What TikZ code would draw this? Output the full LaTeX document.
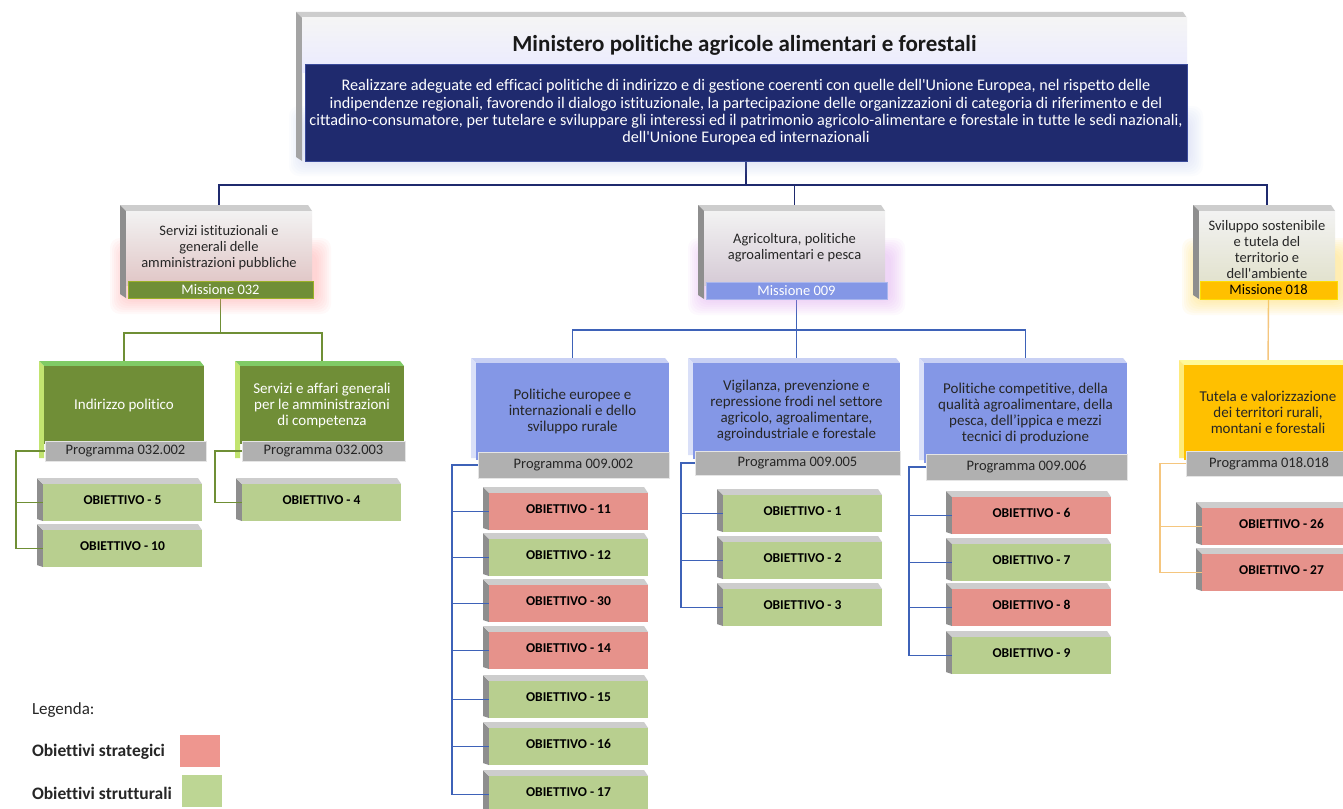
\documentclass[tikz,border=0pt]{standalone}
\usepackage{fontspec}
\setmainfont{Carlito}[Ligatures={TeX,NoCommon}]
\usetikzlibrary{calc}
\pgfdeclarelayer{bg}
\pgfsetlayers{bg,main}
\definecolor{navy}{HTML}{1F2A6E}
\definecolor{navyedge}{HTML}{3A4A9A}
\definecolor{olive}{HTML}{708E37}
\definecolor{oliveline}{HTML}{6F8F35}
\definecolor{lav}{HTML}{8497E6}
\definecolor{orng}{HTML}{FFC000}
\definecolor{bargray}{HTML}{B0B0B0}
\definecolor{salmon}{HTML}{E6928B}
\definecolor{lgreen}{HTML}{B8CF8F}
\definecolor{blueline}{HTML}{3E62B8}
\definecolor{orangeline}{HTML}{F5C67E}
\definecolor{txtgray}{HTML}{262626}
\definecolor{side3d}{HTML}{8E8E8E}
\definecolor{top3d}{HTML}{CDCDCD}
\definecolor{glowpink}{HTML}{FF8C8C}
\definecolor{glowviolet}{HTML}{D890F0}
\definecolor{glowyellow}{HTML}{FFD840}
\definecolor{glowblue}{HTML}{9FB4EC}
\definecolor{legred}{HTML}{EE968F}
\definecolor{leggreen}{HTML}{BDD694}
\newcommand\objbox[4]{%
  \fill[side3d] (#2-6,#3-6) -- (#2,#3) -- (#2,#3+37) -- (#2-6,#3+35) -- cycle;
  \fill[top3d] (#2-6,#3-6) -- (#2+155,#3-6) -- (#2+159,#3) -- (#2,#3) -- cycle;
  \node[objn, fill=#4] (o#1) at (#2,#3) {OBIETTIVO - #1};
}
\newcommand\mystrips[6]{% x y w h topcolor sidecolor : strips of a box whose face is at (x,y)
  \fill[#5] (#1-5,#2-5) -- (#1+#3-4,#2-5) -- (#1+#3,#2) -- (#1,#2) -- cycle;
  \fill[#6] (#1-5,#2-5) -- (#1,#2) -- (#1,#2+#4) -- (#1-5,#2+#4) -- cycle;
}
\begin{document}
\begin{tikzpicture}[x=1pt,y=-1pt,
  every node/.style={inner sep=0pt,outer sep=0pt},
  facenode/.style={anchor=north west,align=center},
  txtA/.style={font=\fontsize{14.5}{16}\selectfont},
  txtB/.style={font=\fontsize{15}{16}\selectfont},
  objn/.style={anchor=north west,minimum width=159pt,minimum height=37pt,
    font=\bfseries\fontsize{13.5}{15}\selectfont,text depth=5pt},
  barn/.style={facenode,fill=bargray,draw=white!80!gray,line width=0.6pt,text=txtgray,txtA},
  navyln/.style={draw=navy,line width=1.2pt},
  greenln/.style={draw=oliveline,line width=1.5pt},
  blueln/.style={draw=blueline,line width=1.3pt},
  orangeln/.style={draw=orangeline,line width=1.4pt},
]
\useasboundingbox (0,0) rectangle (1343,808);

% ---------- glows ----------
\foreach \g in {0,2,...,14}
  \fill[glowblue,opacity=0.035,rounded corners=10pt] (303-\g,120-\g) rectangle (1189+\g,162+\g);
\foreach \g in {0,2,...,14}
  \fill[glowpink,opacity=0.05,rounded corners=10pt] (124-\g,252-\g) rectangle (317+\g,300+\g);
\foreach \g in {0,2,...,14}
  \fill[glowviolet,opacity=0.05,rounded corners=10pt] (702-\g,252-\g) rectangle (891+\g,301+\g);
\foreach \g in {0,2,...,14}
  \fill[glowyellow,opacity=0.06,rounded corners=10pt] (1196-\g,252-\g) rectangle (1341+\g,301+\g);

% ---------- top box ----------
\fill[top3d] (296,12) -- (1183,12) -- (1187,18) -- (302,18) -- cycle;
\fill[side3d!80!white] (296,12) -- (302,18) -- (302,161) -- (296,157) -- cycle;
\node[facenode,minimum width=885pt,minimum height=54pt,top color=white!96!black,bottom color=blue!8!white,
  font=\bfseries\fontsize{23}{26}\selectfont,text=black!90] (ttl) at (302,18)
  {Ministero politiche agricole alimentari e forestali};
\node[facenode,minimum width=882pt,minimum height=97pt,fill=navy,draw=navyedge,line width=0.6pt,text=white,
  font=\fontsize{16.2}{17.3}\selectfont] (top) at (305,64)
  {Realizzare adeguate ed efficaci politiche di indirizzo e di gestione coerenti con quelle dell\textquotesingle Unione Europea, nel rispetto delle\\
   indipendenze regionali, favorendo il dialogo istituzionale, la partecipazione delle organizzazioni di categoria di riferimento e del\\
   cittadino-consumatore, per tutelare e sviluppare gli interessi ed il patrimonio agricolo-alimentare e forestale in tutte le sedi nazionali,\\
   dell\textquotesingle Unione Europea ed internazionali};

% ---------- missions ----------
\fill[top3d] (120,205) -- (308,205) -- (312,211) -- (126,211) -- cycle;
\fill[side3d] (120,205) -- (126,211) -- (126,298) -- (120,294) -- cycle;
\node[facenode,minimum width=186pt,minimum height=74pt,top color=white!95!black,bottom color=red!12!white!88!black,
  text=txtgray,txtA] (m1) at (126,211) {Servizi istituzionali e\\generali delle\\amministrazioni pubbliche};
\node[facenode,minimum width=185pt,minimum height=17pt,fill=olive,draw=olive!70!yellow,line width=0.6pt,text=white,txtA]
  (mb1) at (128,281) {Missione 032};

\fill[top3d] (698,205) -- (881,205) -- (885,211) -- (704,211) -- cycle;
\fill[side3d] (698,205) -- (704,211) -- (704,299) -- (698,295) -- cycle;
\node[facenode,minimum width=181pt,minimum height=74pt,top color=white!95!black,bottom color=violet!10!white!88!black,
  text=txtgray,txtA] (m2) at (704,211) {Agricoltura, politiche\\agroalimentari e pesca};
\node[facenode,minimum width=181pt,minimum height=17pt,fill=lav,draw=lav!70!white,line width=0.6pt,text=white,txtA]
  (mb2) at (706,282) {Missione 009};

\fill[top3d] (1193,205) -- (1331,205) -- (1335,211) -- (1199,211) -- cycle;
\fill[side3d] (1193,205) -- (1199,211) -- (1199,299) -- (1193,295) -- cycle;
\node[facenode,minimum width=136pt,minimum height=78pt,top color=white!95!black,bottom color=yellow!10!white!88!black,
  text=txtgray,txtA] (m3) at (1199,211) {Sviluppo sostenibile\\e tutela del\\territorio e\\dell\textquotesingle ambiente};
\node[facenode,minimum width=137pt,minimum height=18pt,fill=orng,draw=yellow!80!orange,line width=0.6pt,text=black,txtA]
  (mb3) at (1200,281) {Missione 018};

% ---------- programmes ----------
\mystrips{44}{366}{160}{92}{green!35!olive!70!white}{yellow!60!green!60!white}
\node[facenode,minimum width=160pt,minimum height=78pt,fill=olive,text=white,txtB] (p1) at (44,366) {Indirizzo politico};
\node[barn,minimum width=161pt,minimum height=20pt] (pb1) at (45,441) {Programma 032.002};

\mystrips{240}{366}{164}{92}{green!35!olive!70!white}{yellow!60!green!60!white}
\node[facenode,minimum width=164pt,minimum height=78pt,fill=olive,text=white,txtB] (p2) at (240,366)
  {Servizi e affari generali\\per le amministrazioni\\di competenza};
\node[barn,minimum width=163pt,minimum height=20pt] (pb2) at (242,441) {Programma 032.003};

\mystrips{476}{363}{193}{95}{lav!45!white}{lav!30!white}
\node[facenode,minimum width=193pt,minimum height=97pt,fill=lav,text=txtgray,txtB] (p3) at (476,363)
  {Politiche europee e\\internazionali e dello\\sviluppo rurale};
\node[barn,minimum width=191pt,minimum height=26pt] (pb3) at (478,452) {Programma 009.002};

\mystrips{693}{363}{207}{92}{lav!45!white}{lav!30!white}
\node[facenode,minimum width=207pt,minimum height=96pt,fill=lav,text=txtgray,txtB] (p4) at (693,363)
  {Vigilanza, prevenzione e\\repressione frodi nel settore\\agricolo, agroalimentare,\\agroindustriale e forestale};
\node[barn,minimum width=205pt,minimum height=24pt] (pb4) at (695,451) {Programma 009.005};

\mystrips{924}{363}{203}{97}{lav!45!white}{lav!30!white}
\node[facenode,minimum width=203pt,minimum height=100pt,fill=lav,text=txtgray,txtB] (p5) at (924,363)
  {Politiche competitive, della\\qualità agroalimentare, della\\pesca, dell’ippica e mezzi\\tecnici di produzione};
\node[barn,minimum width=201pt,minimum height=26pt] (pb5) at (926,454) {Programma 009.006};

\mystrips{1184}{365}{168}{93}{yellow!40!white}{yellow!55!orng!50!white}
\node[facenode,minimum width=168pt,minimum height=95pt,fill=orng,text=txtgray,txtB] (p6) at (1184,365)
  {Tutela e valorizzazione\\dei territori rurali,\\montani e forestali};
\node[barn,minimum width=166pt,minimum height=25pt] (pb6) at (1186,451) {Programma 018.018};

% ---------- objectives ----------
\objbox{5}{43}{484}{lgreen}
\objbox{10}{43}{530}{lgreen}
\objbox{4}{242}{484}{lgreen}
\objbox{11}{489}{493}{salmon}
\objbox{12}{489}{539}{lgreen}
\objbox{30}{489}{585}{salmon}
\objbox{14}{489}{632}{salmon}
\objbox{15}{489}{681}{lgreen}
\objbox{16}{489}{728}{lgreen}
\objbox{17}{489}{776}{lgreen}
\objbox{1}{723}{495}{lgreen}
\objbox{2}{723}{542}{lgreen}
\objbox{3}{723}{589}{lgreen}
\objbox{6}{952}{497}{salmon}
\objbox{7}{952}{544}{lgreen}
\objbox{8}{952}{589}{salmon}
\objbox{9}{952}{637}{lgreen}
\objbox{26}{1202}{508}{salmon}
\objbox{27}{1202}{554}{salmon}

% ---------- connectors (behind boxes) ----------
\begin{pgfonlayer}{bg}
\fill[white] (0,0) rectangle (1343,808);
\draw[navyln] (top.south) -- ++(0,24) coordinate (j0);
\draw[navyln] (j0) -| (m1.north);
\draw[navyln] (j0) -| (m2.north);
\draw[navyln] (j0) -| (m3.north);
\draw[greenln] (mb1.south) -- ++(0,35) coordinate (j1);
\draw[greenln] (j1) -| (p1.north);
\draw[greenln] (j1) -| (p2.north);
\draw[blueln] (mb2.south) -- ++(0,31) coordinate (j2);
\draw[blueln] (j2) -| (p3.north);
\draw[blueln] (j2) -| (p5.north);
\draw[blueln] (j2) -- (p4.north);
\draw[orangeln] (mb3.south) -- (p6.north);
\end{pgfonlayer}

% ---------- connectors to objectives ----------
\draw[greenln] (pb1.west) -- ++(-29,0) coordinate (v1) |- (o10.west);
\draw[greenln] (v1) |- (o5.west);
\draw[greenln] (pb2.west) -- ++(-27,0) |- (o4.west);
\draw[blueln] (pb3.west) -- ++(-26,0) coordinate (v3) |- (o17.west);
\foreach \k in {11,12,30,14,15,16} \draw[blueln] (v3) |- (o\k.west);
\draw[blueln] (pb4.west) -- ++(-14,0) coordinate (v4) |- (o3.west);
\foreach \k in {1,2} \draw[blueln] (v4) |- (o\k.west);
\draw[blueln] (pb5.west) -- ++(-17,0) coordinate (v5) |- (o9.west);
\foreach \k in {6,7,8} \draw[blueln] (v5) |- (o\k.west);
\draw[orangeln] (pb6.west) -- ++(-26,0) coordinate (v6) |- (o27.west);
\draw[orangeln] (v6) |- (o26.west);

% ---------- legend ----------
\node[anchor=west,font=\fontsize{17}{20}\selectfont,text=txtgray] (leg) at (32,710) {Legenda:};
\node[anchor=west,font=\bfseries\fontsize{17.5}{20}\selectfont,text=txtgray] (ls) at (32,752) {Obiettivi strategici};
\node[anchor=west,font=\bfseries\fontsize{17.5}{20}\selectfont,text=txtgray] (lt) at (32,793) {Obiettivi strutturali};
\node[anchor=north west,minimum width=40pt,minimum height=32pt,fill=legred] (sq1) at (180,735) {};
\node[anchor=north west,minimum width=40pt,minimum height=32pt,fill=leggreen] (sq2) at (182,775) {};
\end{tikzpicture}
\end{document}
